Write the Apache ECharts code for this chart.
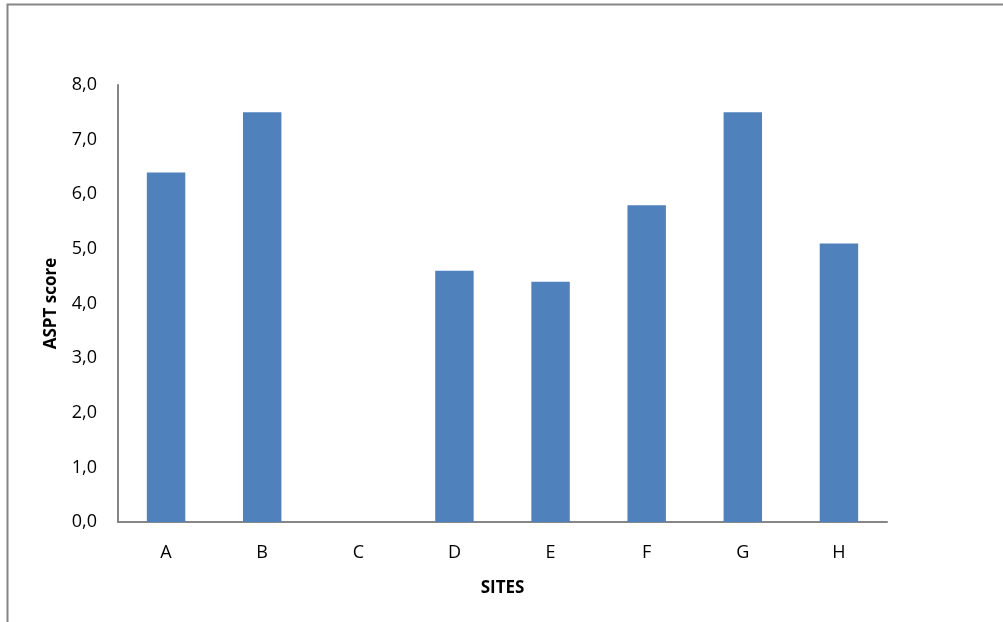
<!DOCTYPE html>
<html>
<head>
<meta charset="utf-8">
<script src="https://cdn.jsdelivr.net/npm/echarts@6/dist/echarts.min.js"></script>
<style>
  html, body { margin: 0; padding: 0; background: #fff; }
  #chart { width: 1003px; height: 622px; }
</style>
</head>
<body>
<div id="chart"></div>
<script>
// Sampling sites and their ASPT scores
const sites = ['A', 'B', 'C', 'D', 'E', 'F', 'G', 'H'];
const asptScores = [6.4, 7.5, 0, 4.6, 4.4, 5.8, 7.5, 5.1];
const yTicks = [0, 1, 2, 3, 4, 5, 6, 7, 8];

const FONT = '"Open Sans", "Noto Sans", sans-serif';
const AXIS_GREY = '#868686';

const chart = echarts.init(document.getElementById('chart'), null, { renderer: 'canvas' });

chart.setOption({
  backgroundColor: '#ffffff',
  animation: false,
  textStyle: { fontFamily: FONT },
  graphic: [{
    // outer chart-area frame
    type: 'rect',
    shape: { x: 7.5, y: 4.5, width: 1010, height: 640 },
    style: { fill: 'none', stroke: AXIS_GREY, lineWidth: 2 },
    silent: true
  }],
  grid: { left: 118, top: 85, right: 116, bottom: 100, containLabel: false },
  xAxis: {
    type: 'category',
    data: sites,
    name: 'SITES',
    nameLocation: 'middle',
    nameGap: 58,
    nameTextStyle: { fontFamily: FONT, fontWeight: 'bold', fontSize: 17, color: '#000' },
    axisLine: { lineStyle: { color: AXIS_GREY, width: 2 } },
    axisTick: { show: false },
    axisLabel: { fontFamily: FONT, fontSize: 18, color: '#000', margin: 22 }
  },
  yAxis: {
    type: 'value',
    min: yTicks[0],
    max: yTicks[yTicks.length - 1],
    interval: 1,
    name: 'ASPT score',
    nameLocation: 'middle',
    nameGap: 58,
    nameRotate: 90,
    nameTextStyle: { fontFamily: FONT, fontWeight: 'bold', fontSize: 17, color: '#000' },
    axisLine: { show: true, lineStyle: { color: AXIS_GREY, width: 2 } },
    axisTick: { show: false },
    splitLine: { show: false },
    axisLabel: {
      fontFamily: FONT, fontSize: 18, color: '#000', margin: 21,
      formatter: v => v.toFixed(1).replace('.', ',')
    }
  },
  series: [{
    type: 'bar',
    data: asptScores,
    barWidth: '40%',
    itemStyle: { color: '#4F81BD' }
  }]
});
</script>
</body>
</html>
